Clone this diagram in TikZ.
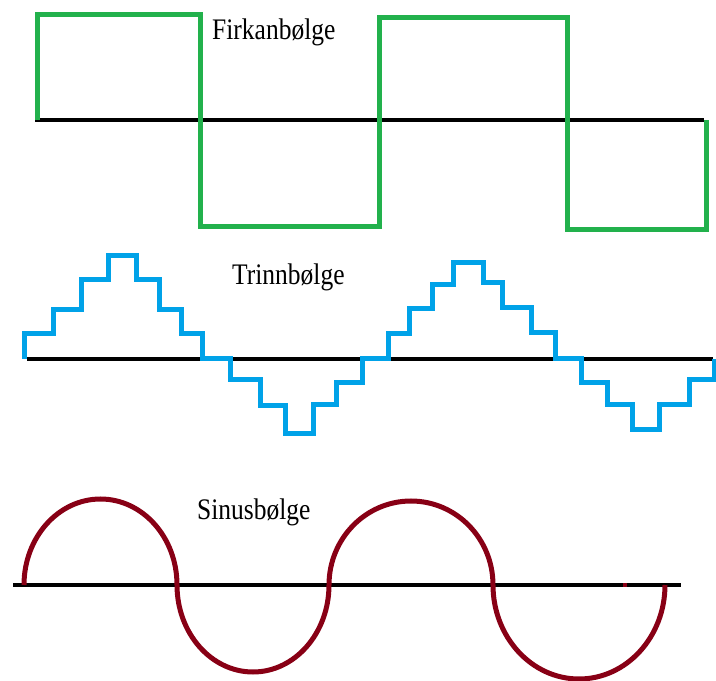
\documentclass[tikz,border=0pt]{standalone}
\usepackage{fontspec}
\setmainfont{Liberation Serif}
\usepackage{tikz}

\definecolor{squaregreen}{RGB}{34,177,76}
\definecolor{stairblue}{RGB}{0,162,232}
\definecolor{sinered}{RGB}{136,0,21}

% tall serif caption above each wave
\newcommand{\wavename}[1]{\scalebox{1}[1.17]{#1}}

\begin{document}
\begin{tikzpicture}[
  x=1pt, y=1pt,
  axis/.style={line width=4.6pt, black},
  wave/.style={line width=5pt, line join=miter},
  label/.style={anchor=base west, inner sep=0pt, font=\fontsize{25.5}{30}\selectfont}
]
\useasboundingbox (0,0) rectangle (716,681);

% square wave
\draw[axis] (35,561) -- (704,561);
\draw[wave, draw=squaregreen]
  (37,561) |- (200,666) |- (379,454) |- (567,663) |- (706,451) -- (706,561);
\node[label] (firkant) at (212,641) {\wavename{Firkanbølge}};

% step wave
\draw[axis] (27,322) -- (713,322);
\draw[wave, draw=stairblue]
  (24,322) |- (53,347) |- (81,371) |- (108,401) |- (136,425.5)
  |- (159,401) |- (181,371) |- (202,347) |- (230,322)
  |- (260,301.5) |- (285.5,275.5) |- (313,247)
  |- (336,276) |- (362,298) |- (388,322)
  |- (409,347) |- (432,372) |- (453,396) |- (483,418)
  |- (502,398) |- (531,373) |- (555,348) |- (581,322)
  |- (607,298) |- (632,276) |- (659,251)
  |- (689,276) |- (714,301) -- (714,322);
\node[label] (trinn) at (232,396) {\wavename{Trinnbølge}};

% sine wave
\draw[axis] (13,96) -- (681,96);
\draw[wave, draw=sinered] (24,96)
  arc[start angle=180, end angle=0, x radius=76.5, y radius=86]
  arc[start angle=180, end angle=360, x radius=76, y radius=87]
  arc[start angle=180, end angle=0, x radius=82, y radius=84]
  arc[start angle=180, end angle=360, x radius=86, y radius=94];
\fill[sinered] (623,94) rectangle (627,98);
\node[label] (sinus) at (197,161.7) {\wavename{Sinusbølge}};

\end{tikzpicture}
\end{document}
